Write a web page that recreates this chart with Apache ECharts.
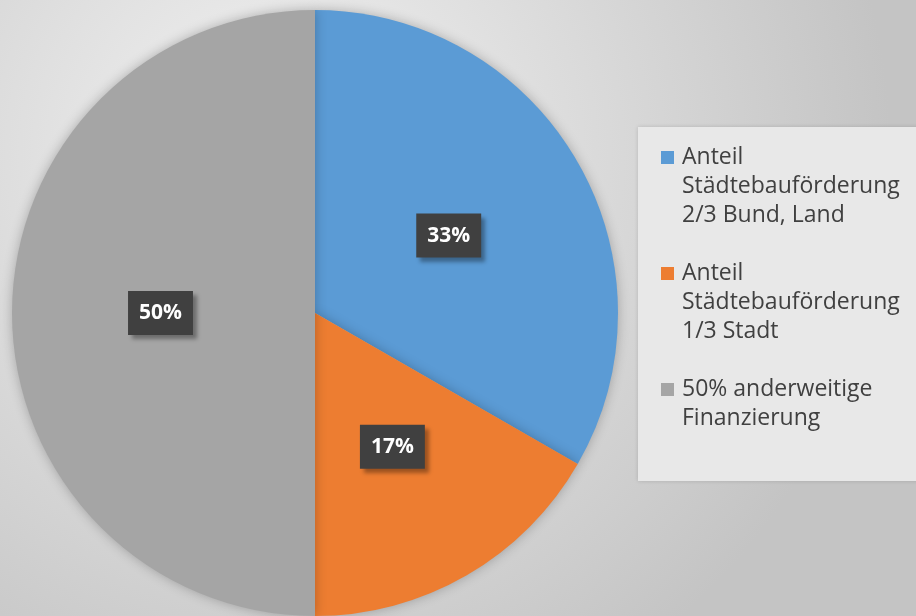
<!DOCTYPE html>
<html>
<head>
<meta charset="UTF-8">
<title>Finanzierung</title>
<style>
  html, body { margin: 0; padding: 0; }
  #main { width: 916px; height: 616px; }
</style>
</head>
<body>
<div id="main"></div>
<script src="https://cdn.jsdelivr.net/npm/echarts@6/dist/echarts.min.js"></script>
<script>
// Daten
var categories = [
  'Anteil\nStädtebauförderung\n2/3 Bund, Land',
  'Anteil\nStädtebauförderung\n1/3 Stadt',
  '50% anderweitige\nFinanzierung\n'
];
var values = [33.3, 16.7, 50];
var colors = ['#5b9bd5', '#ed7d31', '#a5a5a5'];

var pieData = [];
for (var i = 0; i < categories.length; i++) {
  pieData.push({ name: categories[i], value: values[i] });
}

// Symbol oben am ersten Textzeile ausrichten (Box 16 x 87)
var legendIcon = 'path://M0,0H16M0,8H13V21H0ZM0,87H16';

var myChart = echarts.init(document.getElementById('main'));
var option = {
  color: colors,
  backgroundColor: {
    type: 'radial', x: 0.3, y: 0.25, r: 1,
    colorStops: [
      { offset: 0, color: '#f2f2f2' },
      { offset: 1, color: '#c4c4c4' }
    ]
  },
  legend: {
    orient: 'vertical',
    left: 638,
    top: 127,
    padding: [16, 30, 19, 23],
    backgroundColor: '#e8e8e8',
    shadowColor: 'rgba(0,0,0,0.15)',
    shadowBlur: 4,
    itemWidth: 16,
    itemHeight: 87,
    itemGap: 29,
    icon: legendIcon,
    itemStyle: { borderWidth: 0 },
    selectedMode: false,
    textStyle: {
      fontFamily: 'Open Sans',
      fontSize: 23,
      color: '#404040',
      lineHeight: 29
    },
    data: categories
  },
  series: [{
    type: 'pie',
    center: [315, 313],
    radius: 303,
    startAngle: 90,
    clockwise: true,
    silent: true,
    itemStyle: {
      shadowColor: 'rgba(0,0,0,0.25)',
      shadowBlur: 12
    },
    label: {
      position: 'inside',
      formatter: function (p) { return Math.round(p.percent) + '%'; },
      color: '#ffffff',
      fontFamily: 'Open Sans',
      fontWeight: 'bold',
      fontSize: 21,
      lineHeight: 26,
      backgroundColor: '#404040',
      padding: [9, 11],
      shadowColor: 'rgba(0,0,0,0.35)',
      shadowBlur: 4,
      shadowOffsetX: 4,
      shadowOffsetY: 4
    },
    labelLine: { show: false },
    data: pieData
  }]
};
myChart.setOption(option);
</script>
</body>
</html>
